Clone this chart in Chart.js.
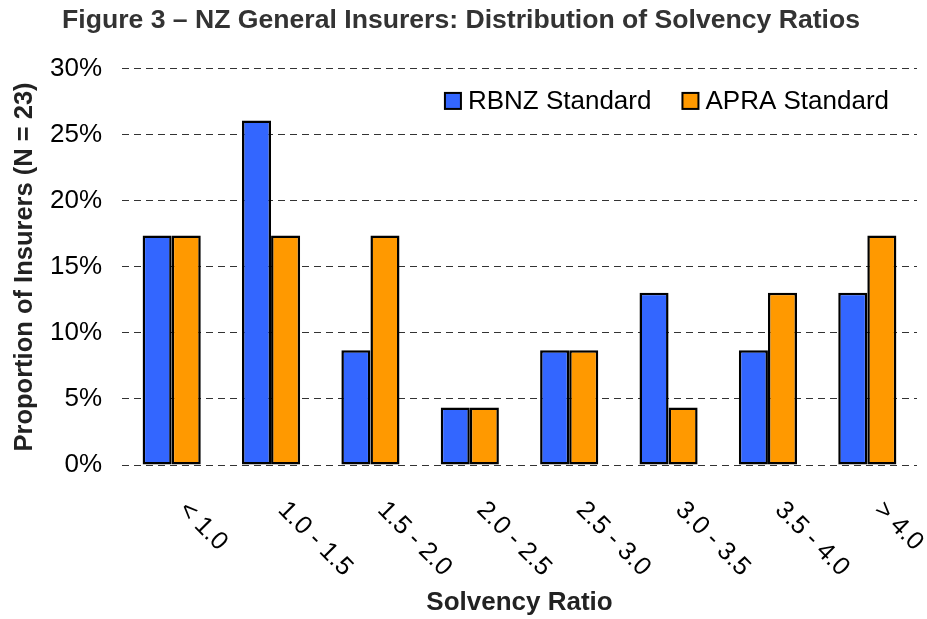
<!DOCTYPE html>
<html>
<head>
<meta charset="utf-8">
<script src="https://cdn.jsdelivr.net/npm/chart.js@4/dist/chart.umd.min.js"></script>
<style>
  body { margin: 0; background: #fff; }
  #wrap { width: 927px; height: 619px; }
</style>
</head>
<body>
<div id="wrap"><canvas id="chart"></canvas></div>
<script>
// Solvency ratio buckets and share of insurers (N = 23)
const categories = ['< 1.0', '1.0 - 1.5', '1.5 - 2.0', '2.0 - 2.5', '2.5 - 3.0', '3.0 - 3.5', '3.5 - 4.0', '> 4.0'];
const rbnzValues = [17.39, 26.09, 8.70, 4.35, 8.70, 13.04, 8.70, 13.04];
const apraValues = [17.39, 17.39, 17.39, 4.35, 8.70, 4.35, 13.04, 17.39];
const yTicks = [0, 5, 10, 15, 20, 25, 30];

const fontFamily = '"Liberation Sans", Arial, Helvetica, sans-serif';

// x labels turned 45 degrees clockwise, like the original figure
const slantedLabels = {
  id: 'slantedLabels',
  afterDraw(chart) {
    const ctx = chart.ctx;
    const x = chart.scales.x;
    ctx.save();
    ctx.font = '25.5px ' + fontFamily;
    ctx.fillStyle = '#000';
    ctx.textAlign = 'left';
    ctx.textBaseline = 'middle';
    categories.forEach((lab, i) => {
      const px = x.getPixelForValue(i);
      ctx.save();
      ctx.translate(px + 11, x.top + 41);
      ctx.rotate(Math.PI / 4);
      ctx.fillText(lab, 0, 0);
      ctx.restore();
    });
    ctx.restore();
  }
};

// legend sitting inside the plot, top right
const insideLegend = {
  id: 'insideLegend',
  afterDraw(chart) {
    const ctx = chart.ctx;
    const area = chart.chartArea;
    const sets = chart.data.datasets;
    ctx.save();
    ctx.font = '26px ' + fontFamily;
    ctx.textBaseline = 'middle';
    ctx.textAlign = 'left';
    const box = 16, gap = 7, spacing = 31;
    const widths = sets.map(d => box + gap + ctx.measureText(d.label).width);
    const total = widths.reduce((a, b) => a + b, 0) + spacing * (sets.length - 1);
    let xPos = area.right - 28 - total;
    const yMid = area.top + 32;
    sets.forEach((d, i) => {
      ctx.fillStyle = d.backgroundColor;
      ctx.fillRect(xPos, yMid - box / 2, box, box);
      ctx.lineWidth = 2;
      ctx.strokeStyle = '#000';
      ctx.strokeRect(xPos, yMid - box / 2, box, box);
      ctx.fillStyle = '#000';
      ctx.fillText(d.label, xPos + box + gap, yMid + 1);
      xPos += widths[i] + spacing;
    });
    ctx.restore();
  }
};

new Chart(document.getElementById('chart'), {
  type: 'bar',
  data: {
    labels: categories,
    datasets: [{
      label: 'RBNZ Standard',
      data: rbnzValues,
      backgroundColor: '#3366FF',
      borderColor: '#000',
      borderWidth: 2.5,
      borderSkipped: false,
      categoryPercentage: 0.585,
      barPercentage: 1
    }, {
      label: 'APRA Standard',
      data: apraValues,
      backgroundColor: '#FF9900',
      borderColor: '#000',
      borderWidth: 2.5,
      borderSkipped: false,
      categoryPercentage: 0.585,
      barPercentage: 1
    }]
  },
  options: {
    responsive: true,
    maintainAspectRatio: false,
    animation: false,
    layout: { padding: { left: 5, right: 10, top: 0, bottom: 0 } },
    plugins: {
      title: {
        display: true,
        text: 'Figure 3 \u2013 NZ General Insurers: Distribution of Solvency Ratios',
        color: '#333',
        font: { family: fontFamily, size: 26.6, weight: 'bold' },
        padding: { top: 5, bottom: 32 }
      },
      legend: { display: false },
      tooltip: { enabled: false }
    },
    scales: {
      x: {
        grid: { display: false, drawTicks: false },
        border: { display: false },
        ticks: { display: false },
        afterFit(scale) { scale.height = 154; },
        title: {
          display: true,
          text: 'Solvency Ratio',
          color: '#222',
          font: { family: fontFamily, size: 26, weight: 'bold' },
          padding: { top: 0, bottom: 1 }
        }
      },
      y: {
        min: 0,
        max: 30,
        afterBuildTicks(scale) { scale.ticks = yTicks.map(v => ({ value: v })); },
        grid: { color: '#333', lineWidth: 1, drawTicks: false },
        border: { display: false, dash: [7, 5] },
        ticks: {
          color: '#000',
          padding: 20,
          font: { family: fontFamily, size: 26 },
          callback: v => v + '%'
        },
        afterFit(scale) { scale.width = 117; },
        title: {
          display: true,
          text: 'Proportion of Insurers (N = 23)',
          color: '#222',
          font: { family: fontFamily, size: 25.5, weight: 'bold' },
          padding: { top: 5, bottom: 0 }
        }
      }
    }
  },
  plugins: [slantedLabels, insideLegend]
});
</script>
</body>
</html>
